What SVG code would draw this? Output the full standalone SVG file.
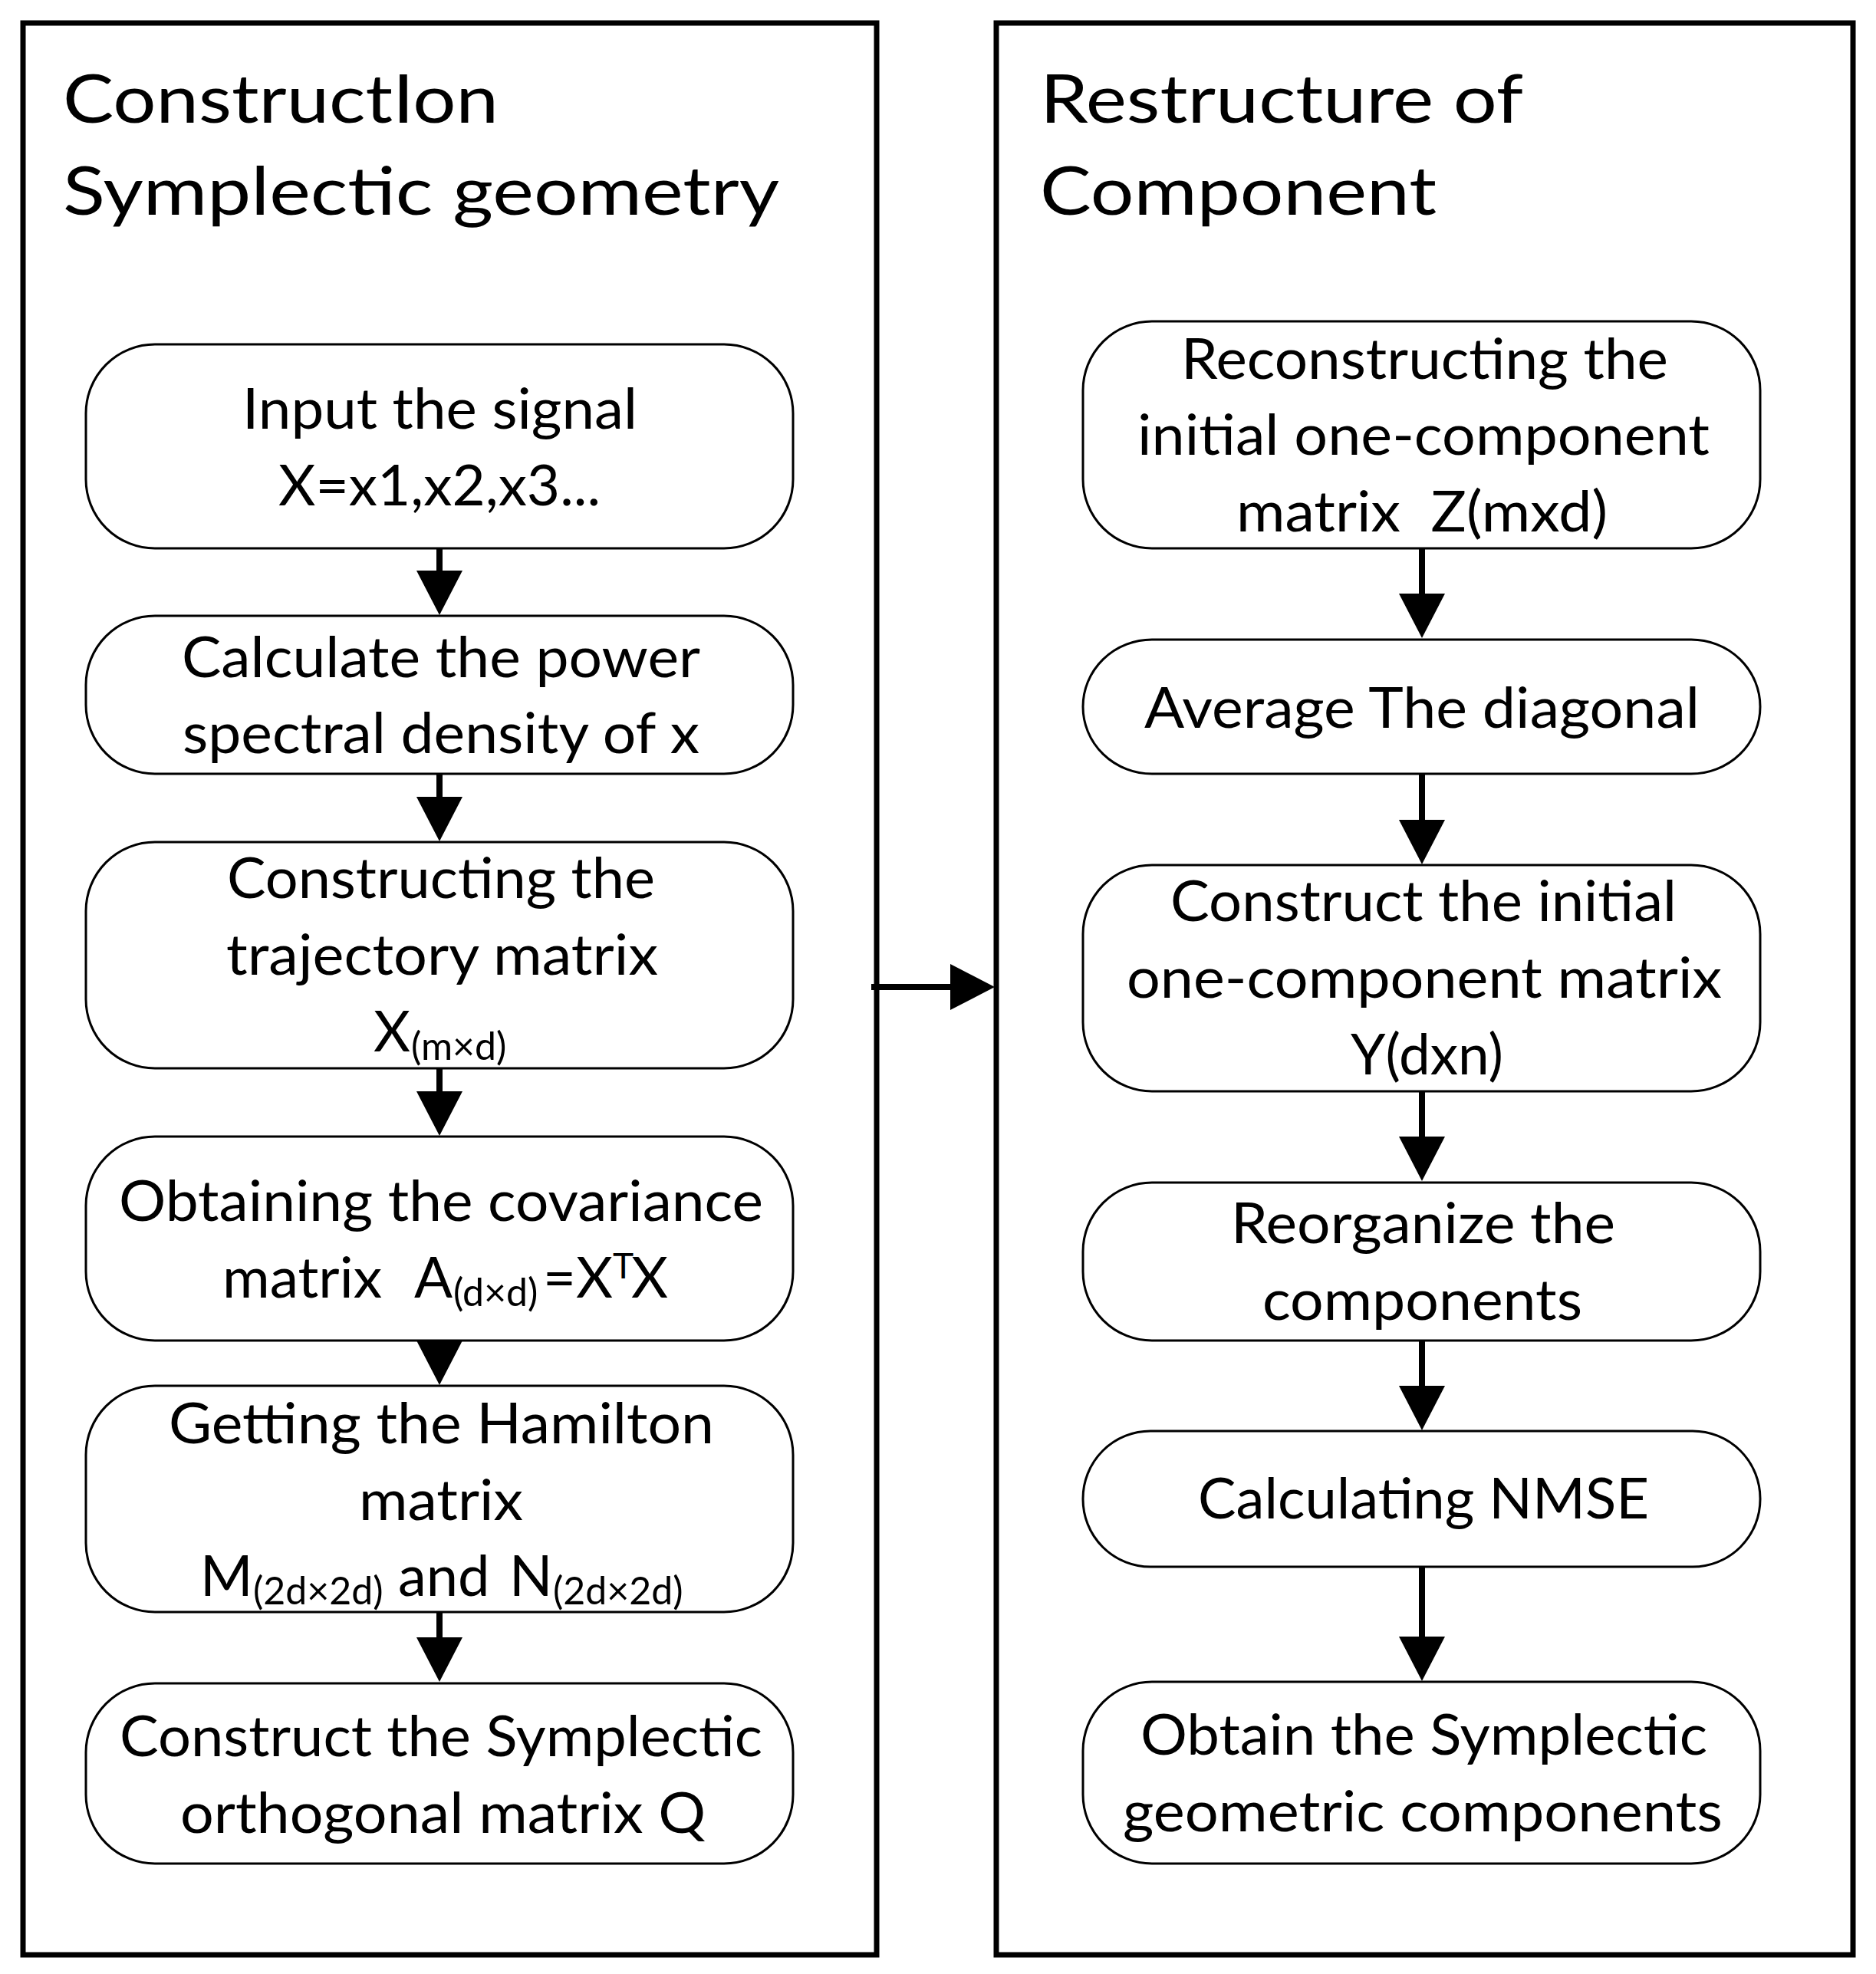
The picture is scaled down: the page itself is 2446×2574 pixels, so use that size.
<svg xmlns="http://www.w3.org/2000/svg" width="2446" height="2574" viewBox="0 0 2446 2574">
<style>
.frame{fill:none;stroke:#000;stroke-width:7}
.node{fill:#fff;stroke:#000;stroke-width:3}
.t{font-family:Lato,"Open Sans","Liberation Sans",sans-serif;font-size:74px;fill:#000;white-space:pre}
.title{font-size:88px}
.sub{font-size:50px}
.sup{font-size:46px}
.edge{stroke:#000;stroke-width:8;fill:none}
</style>
<defs>
<marker id="ah" viewBox="0 0 58 60" refX="1" refY="30" markerWidth="58" markerHeight="60" markerUnits="userSpaceOnUse" orient="auto">
<path d="M0,0 L58,30 L0,60 Z" fill="#000"/>
</marker>
</defs>
<rect width="2446" height="2574" fill="#fff"/>

<g id="panel-left">
<rect class="frame" x="30" y="30" width="1113" height="2519"/>
<text class="t title" x="82" y="160" textLength="568" lengthAdjust="spacingAndGlyphs">ConstructIon</text>
<text class="t title" x="82" y="280" textLength="934" lengthAdjust="spacingAndGlyphs">Symplectic geometry</text>
</g>
<g id="panel-right">
<rect class="frame" x="1299" y="30" width="1117" height="2519"/>
<text class="t title" x="1356" y="160" textLength="630" lengthAdjust="spacingAndGlyphs">Restructure of</text>
<text class="t title" x="1356" y="280" textLength="517" lengthAdjust="spacingAndGlyphs">Component</text>
</g>

<g id="connectors">
<line class="edge" x1="573" y1="711" x2="573" y2="745" marker-end="url(#ah)"/>
<line class="edge" x1="573" y1="1006" x2="573" y2="1040" marker-end="url(#ah)"/>
<line class="edge" x1="573" y1="1390" x2="573" y2="1424" marker-end="url(#ah)"/>
<line class="edge" x1="573" y1="1744" x2="573" y2="1749" marker-end="url(#ah)"/>
<line class="edge" x1="573" y1="2100" x2="573" y2="2136" marker-end="url(#ah)"/>
<line class="edge" x1="1136" y1="1287" x2="1240" y2="1287" marker-end="url(#ah)"/>
<line class="edge" x1="1854" y1="712" x2="1854" y2="775" marker-end="url(#ah)"/>
<line class="edge" x1="1854" y1="1007" x2="1854" y2="1070" marker-end="url(#ah)"/>
<line class="edge" x1="1854" y1="1420" x2="1854" y2="1483" marker-end="url(#ah)"/>
<line class="edge" x1="1854" y1="1746" x2="1854" y2="1808" marker-end="url(#ah)"/>
<line class="edge" x1="1854" y1="2040" x2="1854" y2="2135" marker-end="url(#ah)"/>
</g>

<g id="n1">
<rect class="node" x="112" y="449" width="922" height="266" rx="90" ry="90"/>
<text class="t" x="316" y="559" textLength="515" lengthAdjust="spacingAndGlyphs">Input the signal</text>
<text class="t" x="363" y="659" textLength="420" lengthAdjust="spacingAndGlyphs">X=x1,x2,x3...</text>
</g>
<g id="n2">
<rect class="node" x="112" y="803" width="922" height="206" rx="90" ry="90"/>
<text class="t" x="237" y="883" textLength="676" lengthAdjust="spacingAndGlyphs">Calculate the power</text>
<text class="t" x="238" y="982" textLength="674" lengthAdjust="spacingAndGlyphs">spectral density of x</text>
</g>
<g id="n3">
<rect class="node" x="112" y="1098" width="922" height="295" rx="90" ry="90"/>
<text class="t" x="296" y="1171" textLength="558" lengthAdjust="spacingAndGlyphs">Constructing the</text>
<text class="t" x="295" y="1271" textLength="563" lengthAdjust="spacingAndGlyphs">trajectory matrix</text>
<text class="t" x="487" y="1371">X<tspan class="sub" x="536" y="1382">(m×d)</tspan></text>
</g>
<g id="n4">
<rect class="node" x="112" y="1482" width="922" height="266" rx="90" ry="90"/>
<text class="t" x="155" y="1592" textLength="840" lengthAdjust="spacingAndGlyphs">Obtaining the covariance</text>
<text class="t" x="290" y="1692" textLength="208" lengthAdjust="spacingAndGlyphs">matrix</text>
<text class="t" x="540" y="1692">A<tspan class="sub" x="591" y="1703">(d×d)</tspan><tspan x="708" y="1692">=</tspan><tspan x="751" y="1692">X</tspan><tspan class="sup" x="799" y="1667">T</tspan><tspan x="823" y="1692">X</tspan></text>
</g>
<g id="n5">
<rect class="node" x="112" y="1807" width="922" height="295" rx="90" ry="90"/>
<text class="t" x="220" y="1882" textLength="711" lengthAdjust="spacingAndGlyphs">Getting the Hamilton</text>
<text class="t" x="468" y="1982" textLength="214" lengthAdjust="spacingAndGlyphs">matrix</text>
<text class="t" x="261" y="2081">M<tspan class="sub" x="330" y="2092">(2d×2d)</tspan><tspan x="519" y="2081">and</tspan><tspan x="664" y="2081">N</tspan><tspan class="sub" x="721" y="2092">(2d×2d)</tspan></text>
</g>
<g id="n6">
<rect class="node" x="112" y="2195" width="922" height="235" rx="90" ry="90"/>
<text class="t" x="156" y="2290" textLength="838" lengthAdjust="spacingAndGlyphs">Construct the Symplectic</text>
<text class="t" x="235" y="2390" textLength="685" lengthAdjust="spacingAndGlyphs">orthogonal matrix Q</text>
</g>

<g id="r1">
<rect class="node" x="1412" y="419" width="883" height="296" rx="90" ry="90"/>
<text class="t" x="1540" y="494" textLength="635" lengthAdjust="spacingAndGlyphs">Reconstructing the</text>
<text class="t" x="1483" y="593" textLength="746" lengthAdjust="spacingAndGlyphs">initial one-component</text>
<text class="t" x="1612" y="693" textLength="484" lengthAdjust="spacingAndGlyphs" xml:space="preserve">matrix  Z(mxd)</text>
</g>
<g id="r2">
<rect class="node" x="1412" y="834" width="883" height="175" rx="90" ry="90"/>
<text class="t" x="1492" y="949" textLength="724" lengthAdjust="spacingAndGlyphs">Average The diagonal</text>
</g>
<g id="r3">
<rect class="node" x="1412" y="1128" width="883" height="295" rx="90" ry="90"/>
<text class="t" x="1526" y="1201" textLength="660" lengthAdjust="spacingAndGlyphs">Construct the initial</text>
<text class="t" x="1469" y="1301" textLength="776" lengthAdjust="spacingAndGlyphs">one-component matrix</text>
<text class="t" x="1761" y="1401" textLength="199" lengthAdjust="spacingAndGlyphs">Y(dxn)</text>
</g>
<g id="r4">
<rect class="node" x="1412" y="1542" width="883" height="206" rx="90" ry="90"/>
<text class="t" x="1605" y="1621" textLength="501" lengthAdjust="spacingAndGlyphs">Reorganize the</text>
<text class="t" x="1646" y="1721" textLength="417" lengthAdjust="spacingAndGlyphs">components</text>
</g>
<g id="r5">
<rect class="node" x="1412" y="1866" width="883" height="177" rx="88" ry="88"/>
<text class="t" x="1562" y="1980" textLength="588" lengthAdjust="spacingAndGlyphs">Calculating NMSE</text>
</g>
<g id="r6">
<rect class="node" x="1412" y="2193" width="883" height="237" rx="90" ry="90"/>
<text class="t" x="1487" y="2288" textLength="739" lengthAdjust="spacingAndGlyphs">Obtain the Symplectic</text>
<text class="t" x="1464" y="2388" textLength="782" lengthAdjust="spacingAndGlyphs">geometric components</text>
</g>
</svg>
